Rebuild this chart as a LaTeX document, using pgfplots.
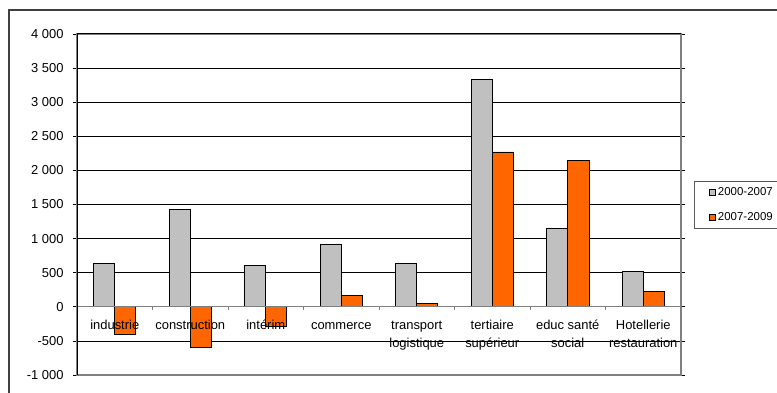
\documentclass[border=0pt]{standalone}
\usepackage{pgfplots}
\pgfplotsset{compat=1.18}
\usepackage{fontspec}
\setmainfont{Liberation Sans}
\definecolor{barGray}{RGB}{192,192,192}
\definecolor{barOrange}{RGB}{255,102,0}
\tikzset{catlab/.style={anchor=north, align=center, font=\fontsize{13}{18}\selectfont}}
\begin{document}
\begin{tikzpicture}[x=1bp,y=1bp]
\useasboundingbox (0,0) rectangle (777,392);
\draw[line width=1.5bp, black!75] (9,-5) -- (9,382) -- (790,382);
\begin{axis}[
  at={(77bp,17bp)}, anchor=south west, scale only axis,
  width=604bp, height=341bp,
  xmin=-0.5, xmax=7.5, ymin=-1000, ymax=4000,
  ybar, bar width=0.28,
  ytick={-1000,-500,...,4000},
  yticklabels={-1 000,-500,0,500,1 000,1 500,2 000,2 500,3 000,3 500,4 000},
  xtick=\empty,
  yticklabel style={xshift=-6bp, font=\fontsize{13}{15}\selectfont},
  y tick style={black, line width=0.8bp},
  tick align=outside, major tick length=4bp,
  ymajorgrids, grid style={black, line width=0.8bp},
  axis line style={gray, line width=1.2bp},
  legend style={at={(1.0215,0.569)}, anchor=north west, draw=gray!70!black,
    line width=0.8bp, font=\fontsize{11.5}{13}\selectfont, inner xsep=15bp, inner ysep=4bp,
    row sep=12bp, cells={anchor=west}},
  legend cell align=left,
]
\addplot[bar shift=0pt, fill=barGray, draw=black, line width=0.8bp,
  legend image code/.code={\draw[fill=barGray, draw=black, line width=0.6bp] (0bp,-3bp) rectangle (6bp,3bp);}]
  coordinates {(-0.14,630) (0.86,1430) (1.86,610) (2.86,920) (3.86,640) (4.86,3340) (5.86,1150) (6.86,520)};
\addlegendentry{2000-2007}
\addplot[bar shift=0pt, fill=barOrange, draw=black, line width=0.8bp,
  legend image code/.code={\draw[fill=barOrange, draw=black, line width=0.6bp] (0bp,-3bp) rectangle (6bp,3bp);}]
  coordinates {(0.14,-400) (1.14,-600) (2.14,-290) (3.14,160) (4.14,50) (5.14,2270) (6.14,2150) (7.14,230)};
\addlegendentry{2007-2009}
\draw[gray, line width=1.2bp] (axis cs:-0.5,0) -- (axis cs:7.5,0);
\pgfplotsinvokeforeach{0.5,1.5,2.5,3.5,4.5,5.5,6.5}{
  \draw[gray, line width=1bp] (axis cs:#1,0) -- ([yshift=-3bp]axis cs:#1,0);
}
\draw[black, line width=1bp] (rel axis cs:0,0) -- (rel axis cs:0,1) -- (rel axis cs:1,1);
\node[catlab] at ([yshift=-6.4bp]axis cs:0,0) {\strut industrie};
\node[catlab] at ([yshift=-6.4bp]axis cs:1,0) {\strut construction};
\node[catlab] at ([yshift=-6.4bp]axis cs:2,0) {\strut intérim};
\node[catlab] at ([yshift=-6.4bp]axis cs:3,0) {\strut commerce};
\node[catlab] at ([yshift=-6.4bp]axis cs:4,0) {\strut transport\\logistique};
\node[catlab] at ([yshift=-6.4bp]axis cs:5,0) {\strut tertiaire\\supérieur};
\node[catlab] at ([yshift=-6.4bp]axis cs:6,0) {\strut educ santé\\social};
\node[catlab] at ([yshift=-6.4bp]axis cs:7,0) {\strut Hotellerie\\restauration};
\end{axis}
\end{tikzpicture}
\end{document}
